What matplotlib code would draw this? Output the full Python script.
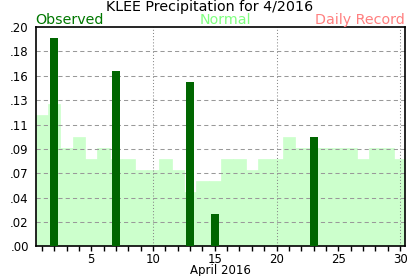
import matplotlib
matplotlib.use('Agg')
import matplotlib.pyplot as plt
import numpy as np

days = list(range(1, 31))
normal = [0.12, 0.13, 0.09, 0.10, 0.08, 0.09, 0.08, 0.08, 0.07, 0.07,
          0.08, 0.07, 0.05, 0.06, 0.06, 0.08, 0.08, 0.07, 0.08, 0.08,
          0.10, 0.09, 0.09, 0.09, 0.09, 0.09, 0.08, 0.09, 0.09, 0.08]
obs_days = [2, 7, 13, 15, 23]
obs_vals = [0.19, 0.16, 0.15, 0.03, 0.10]
ytick_labels = ['.00', '.02', '.04', '.07', '.09', '.11', '.13', '.16', '.18', '.20']
xtick_major = [5, 10, 15, 20, 25, 30]
vlines_days = [10, 20, 30]

plt.rcParams['font.family'] = ['DejaVu Sans']

fig = plt.figure(figsize=(4.17, 2.76), dpi=100)
ax = fig.add_axes([0.0856, 0.107, 0.9712 - 0.0856, 0.9022 - 0.107])

ax.bar(days, normal, width=1.0, color='#ccffcc', edgecolor='#ccffcc', linewidth=0.5, zorder=1)
ax.bar(obs_days, obs_vals, width=0.65, color='#006600', linewidth=0, zorder=3)

yt = np.linspace(0, 0.2, len(ytick_labels))
for v in yt[1:-1]:
    ax.axhline(v, color='#999999', linestyle=(0, (4, 3)), linewidth=0.75, zorder=2)
for d in vlines_days:
    ax.axvline(d, color='#888888', linestyle=(0, (1, 2)), linewidth=0.75, zorder=2)

ax.set_xlim(0.5, 30.4)
ax.set_ylim(0, 0.2)
ax.set_yticks(yt)
ax.set_yticklabels(ytick_labels, fontsize=8.5)
ax.tick_params(axis='y', length=0, pad=5)
ax.set_xticks(xtick_major)
ax.set_xticklabels([str(x) for x in xtick_major], fontsize=8.5)
ax.set_xticks(days, minor=True)
ax.tick_params(axis='x', which='both', length=3.5, width=1, direction='out', pad=1)
ax.set_xlabel('April 2016', fontsize=8.5, labelpad=-1)
for s in ax.spines.values():
    s.set_linewidth(1.2)
    s.set_color('black')

fig.text(0.503, 0.975, 'KLEE Precipitation for 4/2016', ha='center', va='center', fontsize=10.3)
fig.text(0.0856, 0.926, 'Observed', ha='left', va='center', fontsize=10.3, color='#007700')
fig.text(0.54, 0.926, 'Normal', ha='center', va='center', fontsize=10.3, color='#80ff80')
fig.text(0.9712, 0.926, 'Daily Record', ha='right', va='center', fontsize=10.3, color='#ff8080')

fig.savefig('out.png', dpi=100)
